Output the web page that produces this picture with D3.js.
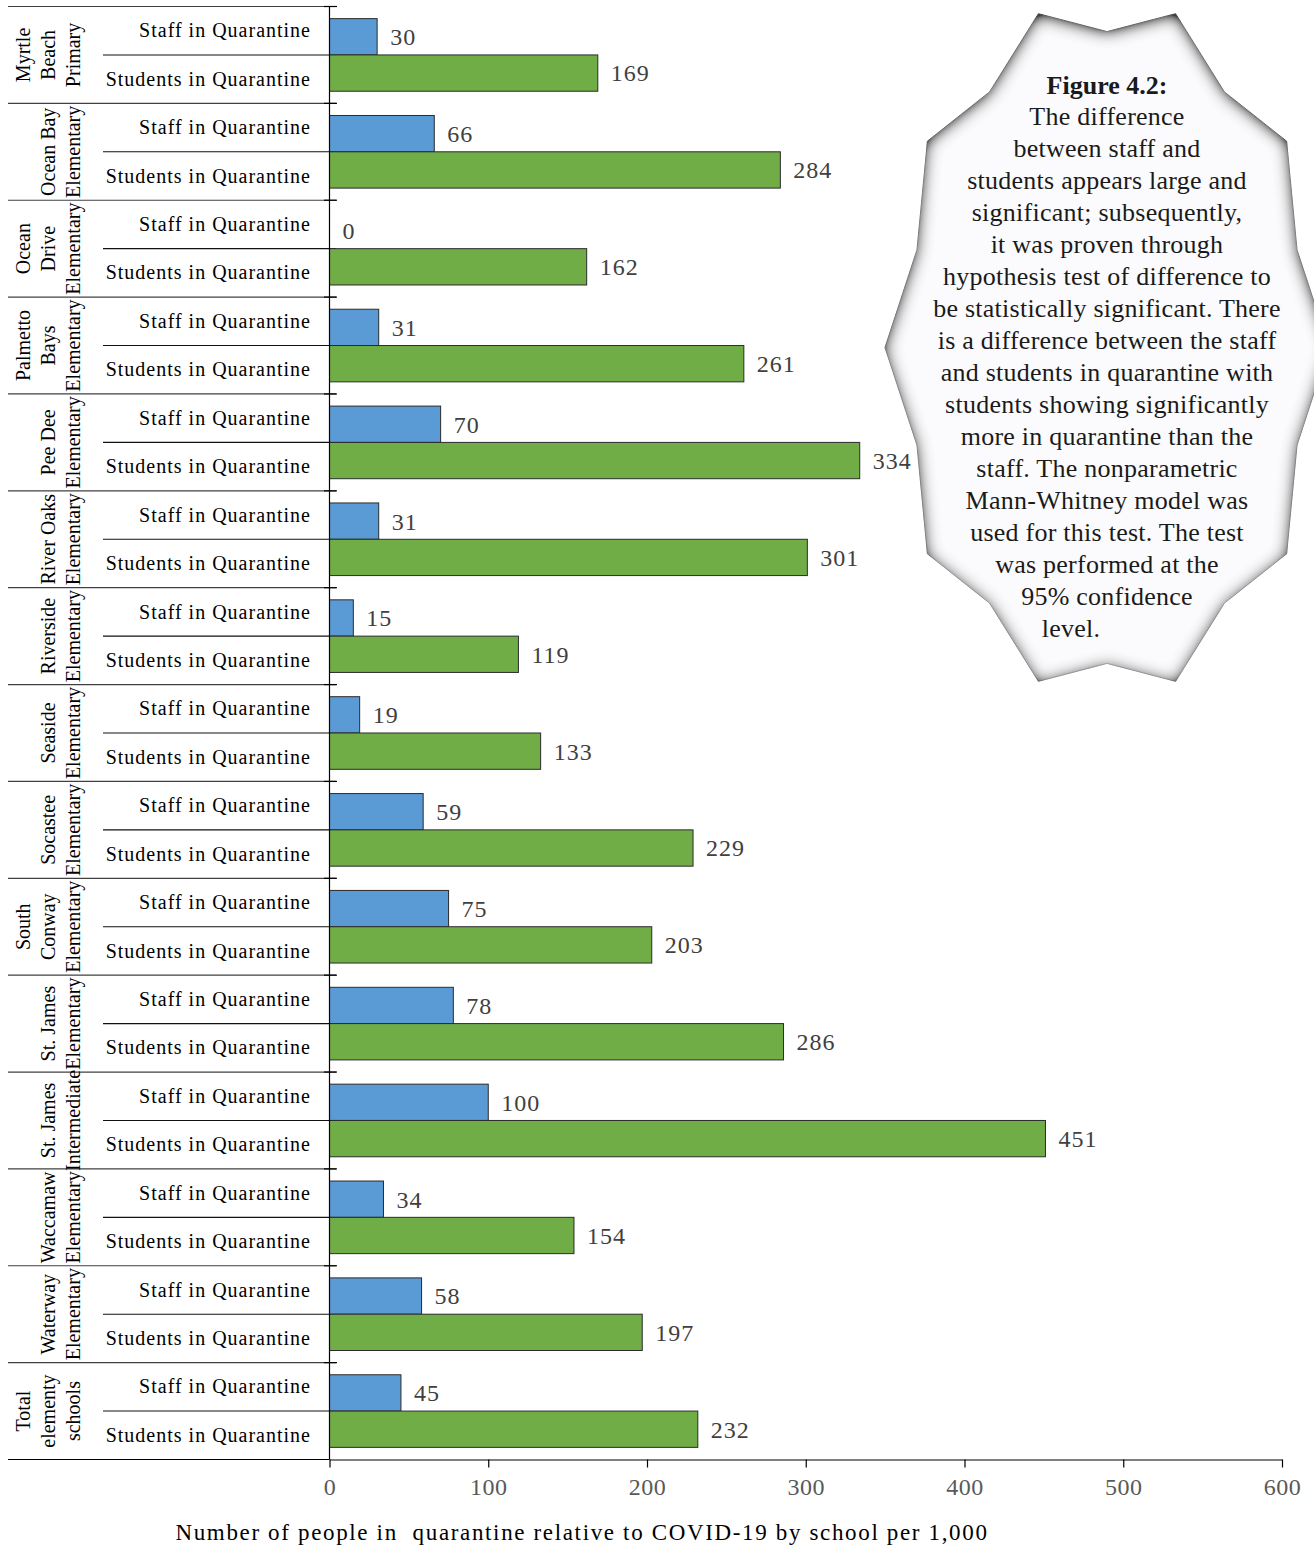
<!DOCTYPE html>
<html>
<head>
<meta charset="utf-8">
<script src="https://cdn.jsdelivr.net/npm/d3@7"></script>
<style>
  body { margin: 0; background: #fff; }
  svg text { font-family: "Liberation Serif", "Times New Roman", serif; white-space: pre; }
</style>
</head>
<body>
<svg id="chart"></svg>
<script>
// school groups (one label line per array entry)
const schools = [
  "Myrtle Beach Primary", "Ocean Bay Elementary", "Ocean Drive Elementary",
  "Palmetto Bays Elementary", "Pee Dee Elementary", "River Oaks Elementary",
  "Riverside Elementary", "Seaside Elementary", "Socastee Elementary",
  "South Conway Elementary", "St. James Elementary", "St. James Intermediate",
  "Waccamaw Elementary", "Waterway Elementary", "Total elementy schools"
];
const schoolLines = [
  ["Myrtle", "Beach", "Primary"], ["Ocean Bay", "Elementary"], ["Ocean", "Drive", "Elementary"],
  ["Palmetto", "Bays", "Elementary"], ["Pee Dee", "Elementary"], ["River Oaks", "Elementary"],
  ["Riverside", "Elementary"], ["Seaside", "Elementary"], ["Socastee", "Elementary"],
  ["South", "Conway", "Elementary"], ["St. James", "Elementary"], ["St. James", "Intermediate"],
  ["Waccamaw", "Elementary"], ["Waterway", "Elementary"], ["Total", "elementy", "schools"]
];
const seriesNames = ["Staff in Quarantine", "Students in Quarantine"];
const staffValues = [30, 66, 0, 31, 70, 31, 15, 19, 59, 75, 78, 100, 34, 58, 45];
const studentValues = [169, 284, 162, 261, 334, 301, 119, 133, 229, 203, 286, 451, 154, 197, 232];
const xTicks = [0, 100, 200, 300, 400, 500, 600];
const xTitle = "Number of people in  quarantine relative to COVID-19 by school per 1,000";

const calloutTitle = "Figure 4.2:";
const calloutLines = [
  "The difference", "between staff and", "students appears large and",
  "significant; subsequently,", "it was proven through",
  "hypothesis test of difference to", "be statistically significant. There",
  "is a difference between the staff", "and students in quarantine with",
  "students showing significantly", "more in quarantine than the",
  "staff. The nonparametric", "Mann-Whitney model was",
  "used for this test. The test", "was performed at the",
  "95% confidence", "level."
];

const width = 1314, height = 1547;
const colors = ["#5b9bd5", "#70ad47"];

const svg = d3.select("#chart").attr("width", width).attr("height", height);

// scales
const x = d3.scaleLinear().domain([0, 600]).range([329.5, 1282]);
const y0 = d3.scaleBand().domain(schools).range([6.5, 1459.5]);
const y1 = d3.scaleBand().domain(seriesNames).range([0, y0.bandwidth()]).paddingOuter(0.334);
const yLabel = d3.scaleBand().domain(seriesNames).range([0, y0.bandwidth()]);

const rows = schools.map((s, i) => ({ school: s, lines: schoolLines[i], values: [staffValues[i], studentValues[i]] }));

// separators: group boundaries and staff/student boundaries
svg.selectAll("line.group")
  .data(schools)
  .enter().append("line")
  .attr("x1", 8).attr("x2", 336)
  .attr("y1", d => y0(d)).attr("y2", d => y0(d))
  .attr("stroke", "#404040").attr("stroke-width", 1.2);
svg.selectAll("line.sub")
  .data(schools)
  .enter().append("line")
  .attr("x1", 103).attr("x2", 336)
  .attr("y1", d => y0(d) + yLabel.step()).attr("y2", d => y0(d) + yLabel.step())
  .attr("stroke", "#111").attr("stroke-width", 1.1);

// bars
const groups = svg.selectAll("g.row")
  .data(rows)
  .enter().append("g")
  .attr("transform", d => `translate(0,${y0(d.school)})`);

groups.selectAll("rect")
  .data(d => d.values.map((v, k) => ({ key: seriesNames[k], value: v, k })))
  .enter().append("rect")
  .attr("x", x(0))
  .attr("y", d => y1(d.key))
  .attr("width", d => x(d.value) - x(0))
  .attr("height", y1.bandwidth())
  .attr("fill", d => colors[d.k])
  .attr("stroke", d => d.value > 0 ? "#2b2b2b" : "none")
  .attr("stroke-width", 1);

// value labels
groups.selectAll("text.val")
  .data(d => d.values.map((v, k) => ({ key: seriesNames[k], value: v })))
  .enter().append("text")
  .attr("x", d => x(d.value) + 13)
  .attr("y", d => y1(d.key) + y1.bandwidth() / 2)
  .attr("dy", "0.35em")
  .attr("font-size", 24)
  .attr("letter-spacing", 1)
  .attr("fill", "#404040")
  .text(d => d.value);

// series labels on the left of the axis
groups.selectAll("text.cat")
  .data(seriesNames)
  .enter().append("text")
  .attr("x", 311)
  .attr("y", d => yLabel(d) + yLabel.bandwidth() / 2)
  .attr("dy", "0.33em")
  .attr("text-anchor", "end")
  .attr("font-size", 20)
  .attr("letter-spacing", 1)
  .attr("fill", "#000")
  .text(d => d);

// rotated school names
groups.each(function(d) {
  const g = d3.select(this);
  const n = d.lines.length;
  d.lines.forEach((line, j) => {
    const bx = 80 - (n - 1 - j) * 25;
    g.append("text")
      .attr("transform", `translate(${bx},${y0.bandwidth() / 2}) rotate(-90)`)
      .attr("text-anchor", "middle")
      .attr("font-size", 20)
      .attr("fill", "#000")
      .text(line);
  });
});

// vertical axis line with small ticks
svg.append("line")
  .attr("x1", x(0)).attr("x2", x(0))
  .attr("y1", 6.5).attr("y2", 1459.5)
  .attr("stroke", "#000").attr("stroke-width", 1.2);
svg.selectAll("line.ytick")
  .data(schools)
  .enter().append("line")
  .attr("x1", 324).attr("x2", 337)
  .attr("y1", d => y0(d)).attr("y2", d => y0(d))
  .attr("stroke", "#000").attr("stroke-width", 1.2);

// bottom line extends across the label area
svg.append("line")
  .attr("x1", 8).attr("x2", x(0))
  .attr("y1", 1459.5).attr("y2", 1459.5)
  .attr("stroke", "#000").attr("stroke-width", 1.2);

// x axis
const xAxis = svg.append("g")
  .attr("transform", "translate(0,1459.5)")
  .call(d3.axisBottom(x).tickValues(xTicks).tickSize(8).tickSizeOuter(0).tickPadding(10));
xAxis.select(".domain").attr("stroke", "#000").attr("stroke-width", 1.2);
xAxis.selectAll(".tick line").attr("stroke", "#000").attr("stroke-width", 1.2);
xAxis.selectAll(".tick text")
  .attr("font-family", "Liberation Serif, serif")
  .attr("font-size", 24)
  .attr("letter-spacing", 0.5)
  .attr("fill", "#595959");

// axis title
svg.append("text")
  .attr("x", 582)
  .attr("y", 1540)
  .attr("text-anchor", "middle")
  .attr("font-size", 23)
  .attr("letter-spacing", 1.65)
  .attr("fill", "#000")
  .text(xTitle);

// callout: 10 point star with an inner shadow
const defs = svg.append("defs");
const filter = defs.append("filter").attr("id", "innerShadow")
  .attr("x", "-10%").attr("y", "-10%").attr("width", "120%").attr("height", "120%");
filter.append("feFlood").attr("flood-color", "#3c3c3c").attr("result", "flood");
filter.append("feComposite").attr("in", "flood").attr("in2", "SourceAlpha").attr("operator", "out").attr("result", "outside");
filter.append("feGaussianBlur").attr("in", "outside").attr("stdDeviation", 8).attr("result", "blur");
filter.append("feOffset").attr("in", "blur").attr("dy", 2).attr("result", "off");
filter.append("feComponentTransfer").attr("in", "off").attr("result", "strong")
  .append("feFuncA").attr("type", "linear").attr("slope", 1.5);
filter.append("feComposite").attr("in", "strong").attr("in2", "SourceAlpha").attr("operator", "in").attr("result", "shadow");
const merge = filter.append("feMerge");
merge.append("feMergeNode").attr("in", "SourceGraphic");
merge.append("feMergeNode").attr("in", "shadow");

function starPoints(cx, cy, rx, ry, n, ratio) {
  const pts = [];
  for (let i = 0; i < 2 * n; i++) {
    const a = i * Math.PI / n;
    const r = i % 2 === 1 ? 1 : ratio;
    pts.push([cx + rx * r * Math.sin(a), cy - ry * r * Math.cos(a)]);
  }
  return pts;
}

const star = starPoints(1107, 347.5, 222, 351, 10, 0.9);
svg.append("path")
  .attr("d", d3.line()(star) + "Z")
  .attr("fill", "#fbfbfd")
  .attr("stroke", "#d0d0d0")
  .attr("stroke-width", 1)
  .attr("filter", "url(#innerShadow)");

svg.append("text")
  .attr("x", 1107).attr("y", 94)
  .attr("text-anchor", "middle")
  .attr("font-size", 26)
  .attr("font-weight", "bold")
  .attr("fill", "#1a1a1a")
  .text(calloutTitle);

svg.selectAll("text.callout")
  .data(calloutLines)
  .enter().append("text")
  .attr("x", (d, i) => i === calloutLines.length - 1 ? 1071 : 1107)
  .attr("y", (d, i) => 125 + i * 32)
  .attr("text-anchor", "middle")
  .attr("font-size", 26)
  .attr("letter-spacing", 0.25)
  .attr("fill", "#1a1a1a")
  .text(d => d);
</script>
</body>
</html>
